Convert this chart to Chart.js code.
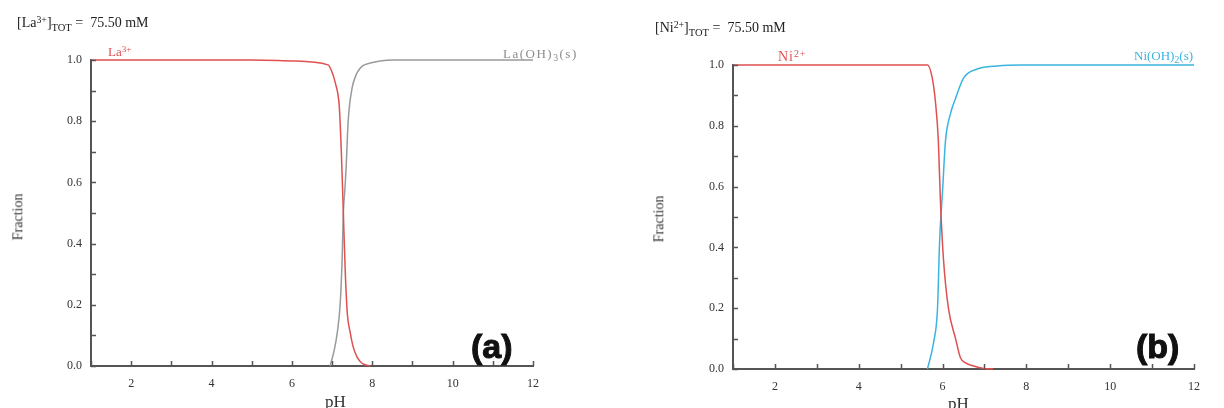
<!DOCTYPE html>
<html>
<head>
<meta charset="utf-8">
<script src="https://cdn.jsdelivr.net/npm/chart.js@4"></script>
<style>
  body { margin: 0; background: #fff; width: 1224px; height: 408px; overflow: hidden; position: relative; font-family: "Liberation Serif", serif; }
  canvas { position: absolute; top: 0; }
  .lbl { position: absolute; line-height: 1; white-space: nowrap; }
  .sup { position: relative; top: -0.45em; font-size: 0.7em; }
  .sub { position: relative; top: 0.35em; font-size: 0.75em; }
  .tag { position: absolute; font-family: "Liberation Sans", sans-serif; font-weight: bold; font-size: 34px; line-height: 1; color: #111; -webkit-text-stroke: 1px #111; }
</style>
</head>
<body>
<canvas id="graph0" width="612" height="408" style="left:0"></canvas>
<canvas id="graph1" width="612" height="408" style="left:612px"></canvas>

<div class="lbl" style="left:17px;top:16px;font-size:14px;color:#222">[La<span class="sup">3+</span>]<span class="sub">TOT</span> =&nbsp;&nbsp;75.50 mM</div>
<div class="lbl" style="left:655px;top:21px;font-size:14px;color:#222">[Ni<span class="sup">2+</span>]<span class="sub">TOT</span> =&nbsp;&nbsp;75.50 mM</div>

<div class="lbl" style="left:108px;top:45px;font-size:13px;color:#e05050">La<span class="sup">3+</span></div>
<div class="lbl" style="left:503px;top:47px;font-size:13px;letter-spacing:1.5px;color:#8c8c8c">La(OH)<span class="sub">3</span>(s)</div>
<div class="lbl" style="left:778px;top:50px;font-size:14px;letter-spacing:1px;color:#e05050">Ni<span class="sup">2+</span></div>
<div class="lbl" style="left:1134px;top:49px;font-size:13px;color:#3cb4e0">Ni(OH)<span class="sub">2</span>(s)</div>

<div class="lbl" style="left:-5px;top:210px;font-size:14px;color:#333;transform:rotate(-90deg)">Fraction</div>
<div class="lbl" style="left:636px;top:212px;font-size:14px;color:#333;transform:rotate(-90deg)">Fraction</div>
<div class="lbl" style="left:325px;top:393px;font-size:17px;color:#333">pH</div>
<div class="lbl" style="left:948px;top:395px;font-size:17px;color:#333">pH</div>

<div class="tag" style="left:471px;top:329px">(a)</div>
<div class="tag" style="left:1136px;top:329px">(b)</div>

<script>
// chart (a): La
const la3PH   = [1, 5, 6, 6.9, 7.0, 7.08, 7.18, 7.23, 7.28, 7.33, 7.38, 7.45, 7.53, 7.62, 7.7, 7.8, 7.95]
const la3Frac = [1, 1, 0.997, 0.984, 0.96, 0.925, 0.846, 0.7, 0.5, 0.3, 0.17, 0.11, 0.06, 0.03, 0.015, 0.005, 0]

const laOHPH   = [6.95, 7.05, 7.13, 7.2, 7.25, 7.28, 7.32, 7.35, 7.4, 7.5, 7.58, 7.63, 7.75, 7.95, 8.5, 12]
const laOHFrac = [0, 0.05, 0.11, 0.2, 0.35, 0.5, 0.58, 0.65, 0.8, 0.91, 0.945, 0.96, 0.98, 0.99, 1, 1]

// chart (b): Ni
const ni2PH   = [1, 5.64, 5.75, 5.83, 5.9, 5.95, 6.02, 6.14, 6.31, 6.43, 6.55, 6.74, 6.98, 7.21]
const ni2Frac = [1, 1, 0.96, 0.88, 0.75, 0.55, 0.365, 0.2, 0.1, 0.036, 0.02, 0.01, 0.002, 0]

const niOHPH   = [5.64, 5.79, 5.88, 5.93, 6.0, 6.07, 6.19, 6.31, 6.5, 6.83, 7.31, 7.86, 12]
const niOHFrac = [0, 0.09, 0.2, 0.42, 0.585, 0.75, 0.84, 0.89, 0.957, 0.987, 0.997, 1, 1]

const xTicks = [1, 2, 3, 4, 5, 6, 7, 8, 9, 10, 11, 12]
const yTicks = [0, 0.1, 0.2, 0.3, 0.4, 0.5, 0.6, 0.7, 0.8, 0.9, 1.0]

const red = "#e05050", gray = "#9a9a9a", blue = "#3cb4e0", axisColor = "#555"

function points(xs, ys){
    return xs.map((x, i) => ({x: x, y: ys[i]}))
}

// small inward tick marks on both axes
const innerTicks = {
    id: "innerTicks",
    afterDraw(chart){
        const ctx = chart.ctx
        const xs = chart.scales.x, ys = chart.scales.y
        const area = chart.chartArea
        ctx.save()
        ctx.strokeStyle = axisColor
        ctx.lineWidth = 1.5
        ctx.beginPath()
        xTicks.forEach(v => {
            const px = Math.round(xs.getPixelForValue(v)) + 0.5
            ctx.moveTo(px, area.bottom)
            ctx.lineTo(px, area.bottom - 5)
        })
        yTicks.forEach(v => {
            const py = Math.round(ys.getPixelForValue(v)) + 0.5
            ctx.moveTo(area.left, py)
            ctx.lineTo(area.left + 5, py)
        })
        ctx.stroke()
        ctx.restore()
    }
}

function makeChart(id, sets, padding){
    return new Chart(id, {
        type: "scatter",
        data: {
            datasets: sets.map(s => ({
                data: points(s.x, s.y),
                borderColor: s.color,
                backgroundColor: s.color,
                borderWidth: 1.5,
                showLine: true,
                pointRadius: 0,
                cubicInterpolationMode: "monotone",
                clip: 6
            }))
        },
        options: {
            responsive: false,
            animation: false,
            layout: {padding: padding},
            plugins: {legend: {display: false}, tooltip: {enabled: false}},
            scales: {
                x: {
                    type: "linear", min: 1, max: 12,
                    afterBuildTicks: sc => { sc.ticks = xTicks.map(v => ({value: v})) },
                    afterFit: sc => { sc.height = 30 },
                    grid: {display: false, drawTicks: false},
                    border: {display: true, color: axisColor, width: 2},
                    ticks: {
                        padding: 11, color: "#333", maxRotation: 0, autoSkip: false,
                        font: {family: "Liberation Serif", size: 12},
                        callback: v => (v % 2 === 0 ? String(v) : "")
                    }
                },
                y: {
                    type: "linear", min: 0, max: 1,
                    afterBuildTicks: sc => { sc.ticks = yTicks.map(v => ({value: v})) },
                    afterFit: sc => { sc.width = 40 },
                    grid: {display: false, drawTicks: false},
                    border: {display: true, color: axisColor, width: 2},
                    ticks: {
                        padding: 9, color: "#333", autoSkip: false,
                        font: {family: "Liberation Serif", size: 12},
                        callback: v => (Math.round(v * 10) % 2 === 0 ? v.toFixed(1) : "")
                    }
                }
            }
        },
        plugins: [innerTicks]
    })
}

makeChart("graph0", [
    {x: la3PH, y: la3Frac, color: red},
    {x: laOHPH, y: laOHFrac, color: gray}
], {left: 51, top: 60, right: 79, bottom: 12})

makeChart("graph1", [
    {x: ni2PH, y: ni2Frac, color: red},
    {x: niOHPH, y: niOHFrac, color: blue}
], {left: 81, top: 65, right: 30, bottom: 9})
</script>
</body>
</html>
